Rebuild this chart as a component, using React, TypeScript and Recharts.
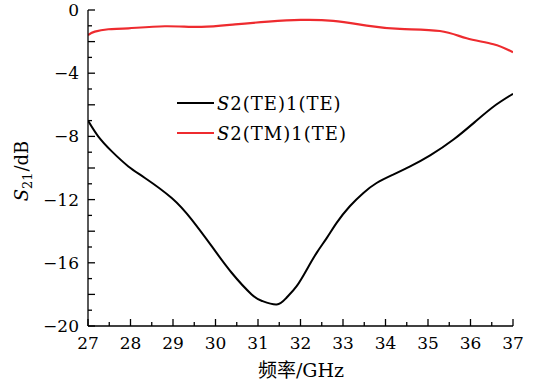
import { Line, LineChart, XAxis, YAxis } from "recharts";

// S2(TE)1(TE) — black curve
const teFreq = [27, 27.24, 27.56, 27.95, 28.34, 28.97, 29.44, 29.91, 30.38, 30.85, 31.1, 31.44, 31.67, 31.91, 32.15, 32.38, 32.62, 32.85, 33.16, 33.48, 33.79, 34.18, 34.58, 35.05, 35.6, 36.15, 36.6, 37];
const teS21 = [-7.0, -8.0, -8.95, -9.9, -10.63, -11.9, -13.27, -14.95, -16.63, -18.0, -18.42, -18.64, -18.21, -17.48, -16.42, -15.37, -14.42, -13.47, -12.42, -11.58, -10.95, -10.42, -9.9, -9.2, -8.2, -6.98, -6.0, -5.3];

// S2(TM)1(TE) — red curve
const tmFreq = [27, 27.16, 27.48, 27.95, 28.81, 29.67, 30.46, 31.24, 32.0, 32.77, 33.56, 34.34, 35.28, 35.91, 36.54, 37];
const tmS21 = [-1.58, -1.37, -1.22, -1.16, -1.03, -1.07, -0.91, -0.74, -0.63, -0.69, -0.99, -1.2, -1.33, -1.79, -2.17, -2.67];

const xTicks = [27, 27.5, 28, 28.5, 29, 29.5, 30, 30.5, 31, 31.5, 32, 32.5, 33, 33.5, 34, 34.5, 35, 35.5, 36, 36.5, 37];
const yTicks = [-20, -19, -18, -17, -16, -15, -14, -13, -12, -11, -10, -9, -8, -7, -6, -5, -4, -3, -2, -1, 0];
const yLabels = [-20, -16, -12, -8, -4, 0];

const seriesNames = ["S2(TE)1(TE)", "S2(TM)1(TE)"];

const teData = teFreq.map((f, i) => ({ f, v: teS21[i] }));
const tmData = tmFreq.map((f, i) => ({ f, v: tmS21[i] }));

const FONT = "'DejaVu Serif', 'Noto Sans CJK SC', serif";
const RED = "#ee2b2f";

const fmt = (v: number) => (v < 0 ? `\u2212${Math.abs(v)}` : `${v}`);

function BottomTick({ x, y, payload }: any) {
  const v = payload.value;
  const major = Number.isInteger(v);
  return (
    <g>
      <line x1={x} x2={x} y1={y} y2={y - (major ? 7 : 4)} stroke="#000" strokeWidth={1.3} />
      {major && (
        <text x={x} y={y + 23} textAnchor="middle" fontSize={17} fontFamily={FONT} fill="#000">
          {v}
        </text>
      )}
    </g>
  );
}

function TopTick({ x, y, payload }: any) {
  const major = Number.isInteger(payload.value);
  return <line x1={x} x2={x} y1={y} y2={y + (major ? 7 : 4)} stroke="#000" strokeWidth={1.3} />;
}

function LeftTick({ x, y, payload }: any) {
  const v = payload.value;
  const major = v % 2 === 0;
  return (
    <g>
      <line x1={x} x2={x + (major ? 7 : 4)} y1={y} y2={y} stroke="#000" strokeWidth={1.3} />
      {yLabels.includes(v) && (
        <text x={x - 9} y={y + 6} textAnchor="end" fontSize={17} fontFamily={FONT} fill="#000">
          {fmt(v)}
        </text>
      )}
    </g>
  );
}

function RightTick({ x, y, payload }: any) {
  const major = payload.value % 2 === 0;
  return <line x1={x} x2={x - (major ? 7 : 4)} y1={y} y2={y} stroke="#000" strokeWidth={1.3} />;
}

function YTitle() {
  return (
    <text transform="translate(28,171) rotate(-90)" textAnchor="middle" fontSize={18} fontFamily={FONT} fill="#000">
      <tspan fontStyle="italic">S</tspan>
      <tspan fontSize={13} dy={4}>21</tspan>
      <tspan dy={-4} dx={1}>/dB</tspan>
    </text>
  );
}

function XTitle() {
  return (
    <text x={301} y={377} textAnchor="middle" fontSize={19} fontFamily={FONT} fill="#000">
      频率/GHz
    </text>
  );
}

function LegendRow({ color, name }: { color: string; name: string }) {
  return (
    <div style={{ display: "flex", alignItems: "center", height: 30 }}>
      <svg width={38} height={10} style={{ marginRight: 2 }}>
        <line x1={0} x2={37} y1={5} y2={5} stroke={color} strokeWidth={2} />
      </svg>
      <span style={{ fontFamily: FONT, fontSize: 18, letterSpacing: 1, color: "#000" }}>
        <i>{name.slice(0, 1)}</i>
        {name.slice(1)}
      </span>
    </div>
  );
}

export default function App() {
  return (
    <div style={{ position: "absolute", left: 0, top: 0, width: 536, height: 387, background: "#fff" }}>
      <LineChart width={536} height={387} margin={{ top: 10, right: 23, bottom: 0, left: 0 }}>
        <XAxis
          xAxisId="b"
          dataKey="f"
          type="number"
          domain={[27, 37]}
          ticks={xTicks}
          allowDataOverflow
          height={61}
          tickSize={0}
          tickMargin={0}
          tickLine={false}
          axisLine={{ stroke: "#000", strokeWidth: 1.3 }}
          tick={<BottomTick />}
          interval={0}
          label={<XTitle />}
        />
        <XAxis
          xAxisId="t"
          orientation="top"
          dataKey="f"
          type="number"
          domain={[27, 37]}
          ticks={xTicks}
          allowDataOverflow
          height={0}
          tickSize={0}
          tickMargin={0}
          tickLine={false}
          axisLine={{ stroke: "#000", strokeWidth: 1.3 }}
          tick={<TopTick />}
          interval={0}
        />
        <YAxis
          yAxisId="l"
          type="number"
          domain={[-20, 0]}
          ticks={yTicks}
          allowDataOverflow
          width={88}
          tickSize={0}
          tickMargin={0}
          tickLine={false}
          axisLine={{ stroke: "#000", strokeWidth: 1.3 }}
          tick={<LeftTick />}
          interval={0}
          label={<YTitle />}
        />
        <YAxis
          yAxisId="r"
          orientation="right"
          type="number"
          domain={[-20, 0]}
          ticks={yTicks}
          allowDataOverflow
          width={0}
          tickSize={0}
          tickMargin={0}
          tickLine={false}
          axisLine={{ stroke: "#000", strokeWidth: 1.3 }}
          tick={<RightTick />}
          interval={0}
        />
        <Line
          xAxisId="b"
          yAxisId="l"
          data={teData}
          dataKey="v"
          type="natural"
          stroke="#000"
          strokeWidth={2}
          dot={false}
          isAnimationActive={false}
        />
        <Line
          xAxisId="t"
          yAxisId="r"
          data={tmData}
          dataKey="v"
          type="natural"
          stroke={RED}
          strokeWidth={2.2}
          dot={false}
          isAnimationActive={false}
        />
      </LineChart>
      <div style={{ position: "absolute", left: 177, top: 88 }}>
        <LegendRow color="#000" name={seriesNames[0]} />
        <LegendRow color={RED} name={seriesNames[1]} />
      </div>
    </div>
  );
}
